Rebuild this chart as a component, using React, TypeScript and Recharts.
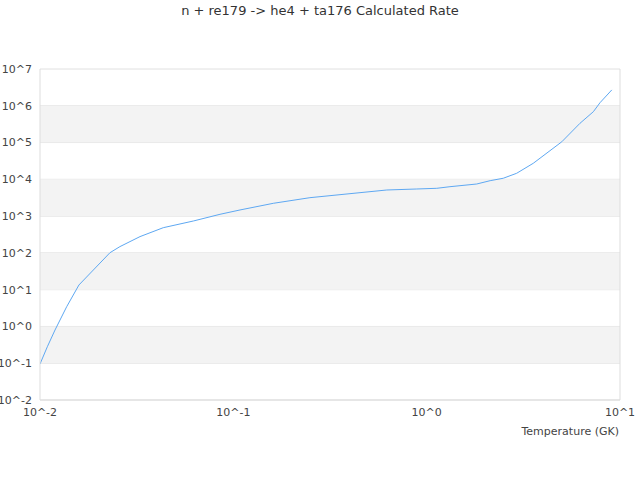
import { LineChart, Line, XAxis, YAxis, CartesianGrid, ReferenceArea, ReferenceLine } from 'recharts';

const temperatures = [
  0.01, 0.01091, 0.01196, 0.01374, 0.0159, 0.023, 0.0259, 0.0329, 0.0434, 0.0621, 0.0853,
  0.1083, 0.161, 0.249, 0.622, 0.889, 1.128, 1.32, 1.815, 2.13, 2.49, 2.92, 3.56, 5.0,
  6.21, 7.28, 7.88, 9.07,
];
const rates = [
  0.095, 0.28, 0.8, 3.44, 13.4, 101, 148, 277, 484, 736, 1120,
  1470, 2230, 3170, 5130, 5460, 5700, 6310, 7460, 9190, 10700, 14600, 27300, 105000,
  334000, 690000, 1210000, 2700000,
];
const xTicks = [0.01, 0.1, 1, 10];
const yTicks = [0.01, 0.1, 1, 10, 100, 1e3, 1e4, 1e5, 1e6, 1e7];
const bands = [
  [0.1, 1],
  [10, 100],
  [1e3, 1e4],
  [1e5, 1e6],
];

const data = temperatures.map((t, i) => ({ t, rate: rates[i] }));

const pow10 = (v: number) => `10^${Math.round(Math.log10(v))}`;
const tickStyle = { fontSize: 11, fill: '#444', fontFamily: 'DejaVu Sans' };

export default function App() {
  return (
    <div style={{ position: 'absolute', left: 0, top: 0, width: 640, height: 480, background: '#fff' }}>
      <div
        style={{
          position: 'absolute',
          top: 3,
          width: 640,
          textAlign: 'center',
          fontFamily: 'DejaVu Sans',
          fontSize: 13,
          color: '#333',
        }}
      >
        n + re179 -&gt; he4 + ta176 Calculated Rate
      </div>
      <LineChart width={640} height={480} data={data} margin={{ top: 69, right: 20, bottom: 44, left: 0 }}>
        {bands.map(([lo, hi]) => (
          <ReferenceArea key={lo} y1={lo} y2={hi} fill="#f3f3f3" fillOpacity={1} stroke="none" />
        ))}
        <CartesianGrid vertical={false} stroke="#e0e0e0" />
        <ReferenceLine x={10} stroke="#dddddd" />
        <XAxis
          dataKey="t"
          type="number"
          scale="log"
          domain={[0.01, 10]}
          ticks={xTicks}
          tickFormatter={pow10}
          tick={tickStyle}
          tickLine={false}
          stroke="#dddddd"
          height={36}
          allowDataOverflow
          label={{ value: 'Temperature (GK)', position: 'insideBottomRight', offset: 1, fontSize: 11, fill: '#444', fontFamily: 'DejaVu Sans' }}
        />
        <YAxis
          type="number"
          scale="log"
          domain={[0.01, 1e7]}
          ticks={yTicks}
          tickFormatter={pow10}
          tick={tickStyle}
          tickLine={false}
          stroke="#dddddd"
          width={40}
          allowDataOverflow
        />
        <Line
          type="linear"
          dataKey="rate"
          stroke="#5ea8f2"
          strokeWidth={1}
          dot={false}
          isAnimationActive={false}
        />
      </LineChart>
    </div>
  );
}
